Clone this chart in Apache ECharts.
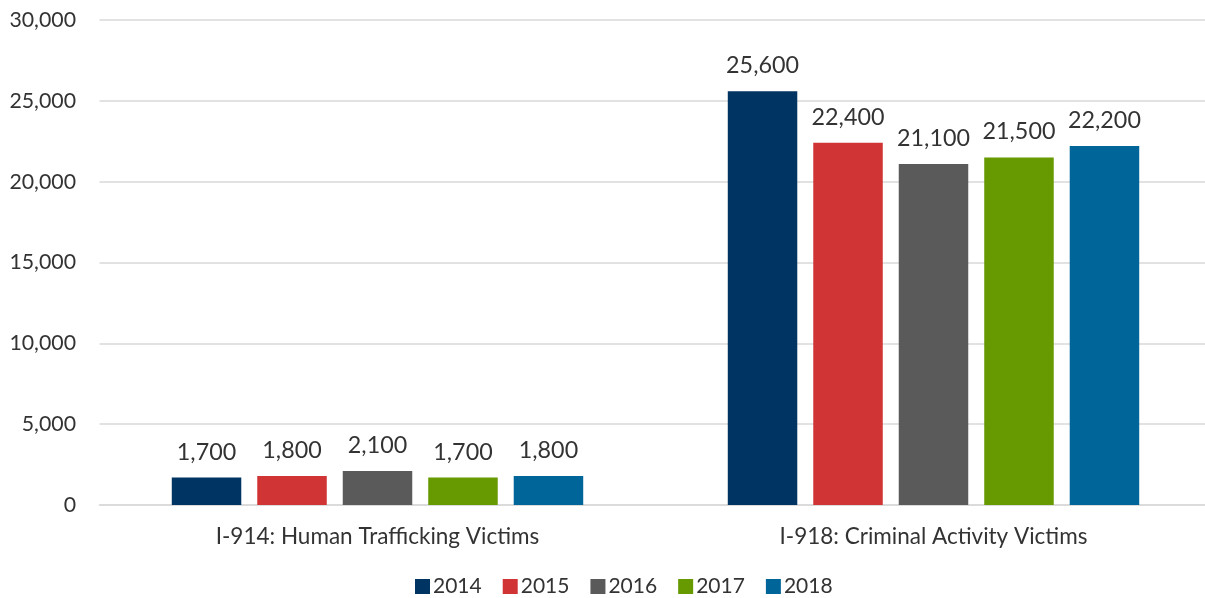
<!DOCTYPE html>
<html><head><meta charset="utf-8">
<script src="https://cdn.jsdelivr.net/npm/echarts@6/dist/echarts.min.js"></script>
<style>html,body{margin:0;padding:0;background:#fff}#c{width:1205px;height:598px}</style>
</head><body><div id="c"></div>
<script>
const categories = ['I-914: Human Trafficking Victims', 'I-918: Criminal Activity Victims'];
const years = ['2014', '2015', '2016', '2017', '2018'];
const v2014 = [1700, 25600];
const v2015 = [1800, 22400];
const v2016 = [2100, 21100];
const v2017 = [1700, 21500];
const v2018 = [1800, 22200];
const colors = ['#003462', '#D03435', '#5A5A5A', '#669A00', '#006699'];
const seriesData = [v2014, v2015, v2016, v2017, v2018];
const FONT = 'Lato';
const chart = echarts.init(document.getElementById('c'));
chart.setOption({
  animation: false,
  textStyle: { fontFamily: FONT },
  grid: { left: 99.5, width: 1112, top: 20, bottom: 93, outerBoundsMode: 'none', containLabel: false },
  legend: {
    bottom: 1, left: 415, padding: 0, itemWidth: 15, itemHeight: 15, itemGap: 21,
    icon: 'rect',
    textStyle: { fontSize: 21, color: '#333', fontFamily: FONT, padding: [0,0,0,-2] },
    data: years
  },
  xAxis: {
    type: 'category', data: categories,
    axisLine: { lineStyle: { color: '#d9d9d9', width: 1.5 } },
    axisTick: { show: false },
    axisLabel: { fontSize: 22.5, color: '#333', margin: 20, fontFamily: FONT }
  },
  yAxis: {
    type: 'value', min: 0, max: 30000, interval: 5000,
    axisLine: { show: false }, axisTick: { show: false },
    splitLine: { lineStyle: { color: '#d9d9d9', width: 1.5 } },
    axisLabel: { fontSize: 21.3, color: '#333', margin: 23.5, fontFamily: FONT,
      formatter: v => v.toLocaleString('en-US') }
  },
  series: years.map((y, i) => ({
    name: y, type: 'bar', data: seriesData[i],
    barGap: '23%', barCategoryGap: '26%',
    itemStyle: { color: colors[i] },
    label: { show: true, position: 'top', distance: 14, fontSize: 23.3, color: '#333', fontFamily: FONT,
      formatter: p => p.value.toLocaleString('en-US') }
  }))
});
</script></body></html>
